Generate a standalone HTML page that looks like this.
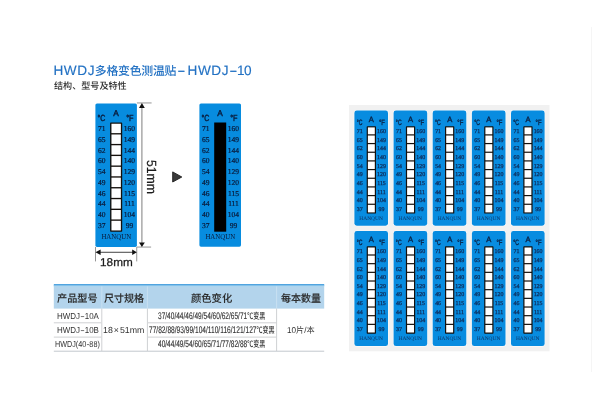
<!DOCTYPE html>
<html lang="zh-CN">
<head>
<meta charset="utf-8">
<title>HWDJ多格变色测温贴-HWDJ-10</title>
<style>
html,body{margin:0;padding:0;background:#fff;}
body{width:600px;height:400px;overflow:hidden;position:relative;font-family:"Liberation Sans","Noto Sans CJK SC",sans-serif;color:#333;}
svg{position:absolute;left:0;top:0;display:block;}
svg text{text-rendering:geometricPrecision;}
.sa{font-family:"Liberation Sans","Noto Sans CJK SC",sans-serif;}
.se{font-family:"Liberation Serif","Noto Serif CJK SC",serif;}
.t{position:absolute;white-space:nowrap;transform-origin:0 50%;margin:0;padding:0;text-rendering:geometricPrecision;}
.t span{line-height:0;}
.t span.d,.t span.e{display:inline-block;line-height:normal;}
.title{color:#2271c3;-webkit-text-stroke:0.15px #2271c3;letter-spacing:0.6px;}
.title .c{font-size:11.9px;font-weight:500;-webkit-text-stroke:0;letter-spacing:-0.25px;margin-left:-0.3px;}
.title .d{transform:scaleX(1.8);margin:0 2.3px 0 2.5px;letter-spacing:0;}
.sub{font-weight:500;color:#2e2e2e;}
.th{font-weight:500;color:#2a2a2a;-webkit-text-stroke:0.1px #2a2a2a;}
.td{color:#333;}
.cc{-webkit-text-stroke:0.12px #303030;color:#303030;}
.cc .k{font-size:8.8px;-webkit-text-stroke:0;font-weight:500;}
.td .d{transform:scaleX(1.7);margin:0 1.0px 0 1.2px;}
.td .e{transform:scaleX(1.3);margin:0 0.4px;}
.td .x{margin:0 1px;}
.title .n{letter-spacing:-0.6px;margin-left:-1px;}
.title .w{margin-left:1.9px;margin-right:-0.4px;}
.page{position:absolute;left:0;top:0;width:600px;height:400px;will-change:transform;}
</style>
</head>
<body>
<div class="page">

<svg width="600" height="400" viewBox="0 0 600 400">
<rect x="349" y="105" width="200.5" height="246.3" fill="#f1f1f1"/>
<rect x="591" y="27" width="0.8" height="345" fill="#f3f3f3"/>
<g transform="translate(95.4,103.4)">
<rect x="0" y="0" width="41.5" height="143.5" rx="1.6" ry="1.6" fill="#078cdf"/>
<g fill="#0a1a3a" stroke="#0a1a3a" stroke-width="0.4" text-anchor="middle" class="sa">
<text x="20.70" y="13.10" font-size="8.30">A</text>
<text x="6.10" y="18.10" font-size="8.90" textLength="7.90" lengthAdjust="spacingAndGlyphs">°C</text>
<text x="34.50" y="18.10" font-size="8.90" textLength="7.40" lengthAdjust="spacingAndGlyphs">°F</text>
</g>
<g fill="#0a1a3a" stroke="#0a1a3a" stroke-width="0.2" text-anchor="middle" font-size="7.50" class="se">
<text x="6.30" y="27.70">71</text>
<text x="34.10" y="27.70">160</text>
<text x="6.30" y="38.47">65</text>
<text x="34.10" y="38.47">149</text>
<text x="6.30" y="49.24">62</text>
<text x="34.10" y="49.24">144</text>
<text x="6.30" y="60.01">60</text>
<text x="34.10" y="60.01">140</text>
<text x="6.30" y="70.78">54</text>
<text x="34.10" y="70.78">129</text>
<text x="6.30" y="81.55">49</text>
<text x="34.10" y="81.55">120</text>
<text x="6.30" y="92.32">46</text>
<text x="34.10" y="92.32">115</text>
<text x="6.30" y="103.09">44</text>
<text x="34.10" y="103.09">111</text>
<text x="6.30" y="113.86">40</text>
<text x="34.10" y="113.86">104</text>
<text x="6.30" y="124.63">37</text>
<text x="34.10" y="124.63">99</text>
<text x="20.90" y="136.10" font-size="7.50" textLength="29.80" lengthAdjust="spacingAndGlyphs" stroke-width="0">HANQUN</text>
</g>
<rect x="14.70" y="19.00" width="12.10" height="109.40" rx="0.7" fill="#15100c"/>
<rect x="16.05" y="20.35" width="9.40" height="9.37" fill="#fff"/>
<rect x="16.05" y="31.07" width="9.40" height="9.44" fill="#fff"/>
<rect x="16.05" y="41.86" width="9.40" height="9.44" fill="#fff"/>
<rect x="16.05" y="52.65" width="9.40" height="9.44" fill="#fff"/>
<rect x="16.05" y="63.44" width="9.40" height="9.44" fill="#fff"/>
<rect x="16.05" y="74.23" width="9.40" height="9.44" fill="#fff"/>
<rect x="16.05" y="85.02" width="9.40" height="9.44" fill="#fff"/>
<rect x="16.05" y="95.81" width="9.40" height="9.44" fill="#fff"/>
<rect x="16.05" y="106.61" width="9.40" height="9.44" fill="#fff"/>
<rect x="16.05" y="117.39" width="9.40" height="9.66" fill="#fff"/>
</g>
<g transform="translate(199.4,103.4)">
<rect x="0" y="0" width="41.6" height="143.3" rx="1.6" ry="1.6" fill="#078cdf"/>
<g fill="#0a1a3a" stroke="#0a1a3a" stroke-width="0.4" text-anchor="middle" class="sa">
<text x="20.70" y="13.10" font-size="8.30">A</text>
<text x="6.10" y="18.10" font-size="8.90" textLength="7.90" lengthAdjust="spacingAndGlyphs">°C</text>
<text x="34.50" y="18.10" font-size="8.90" textLength="7.40" lengthAdjust="spacingAndGlyphs">°F</text>
</g>
<g fill="#0a1a3a" stroke="#0a1a3a" stroke-width="0.2" text-anchor="middle" font-size="7.50" class="se">
<text x="6.30" y="27.70">71</text>
<text x="34.10" y="27.70">160</text>
<text x="6.30" y="38.47">65</text>
<text x="34.10" y="38.47">149</text>
<text x="6.30" y="49.24">62</text>
<text x="34.10" y="49.24">144</text>
<text x="6.30" y="60.01">60</text>
<text x="34.10" y="60.01">140</text>
<text x="6.30" y="70.78">54</text>
<text x="34.10" y="70.78">129</text>
<text x="6.30" y="81.55">49</text>
<text x="34.10" y="81.55">120</text>
<text x="6.30" y="92.32">46</text>
<text x="34.10" y="92.32">115</text>
<text x="6.30" y="103.09">44</text>
<text x="34.10" y="103.09">111</text>
<text x="6.30" y="113.86">40</text>
<text x="34.10" y="113.86">104</text>
<text x="6.30" y="124.63">37</text>
<text x="34.10" y="124.63">99</text>
<text x="20.90" y="136.10" font-size="7.50" textLength="29.80" lengthAdjust="spacingAndGlyphs" stroke-width="0">HANQUN</text>
</g>
<rect x="14.80" y="19.10" width="12.00" height="109.20" fill="#000"/>
</g>
<g fill="#8a8a8a">
<rect x="136.9" y="102.5" width="14.7" height="0.9"/>
<rect x="136.9" y="246.6" width="14.2" height="0.9"/>
<rect x="141.35" y="107" width="1.1" height="136"/>
<rect x="95.1" y="247" width="0.9" height="14.4"/>
<rect x="136.3" y="247" width="0.9" height="14.4"/>
</g>
<rect x="100" y="251.75" width="33" height="1.1" fill="#555"/>
<g fill="#111">
<polygon points="141.9,103 139,108 144.8,108"/>
<polygon points="141.9,247 139,242.6 144.8,242.6"/>
<polygon points="95.5,252.3 100.6,249.6 100.6,255"/>
<polygon points="136.8,252.3 132.2,249.6 132.2,255"/>
<polygon points="172.7,171.9 181.8,177 172.7,182" fill="#3a3a3a" stroke="#1c1c1c" stroke-width="0.9" stroke-linejoin="miter"/>
</g>
<text x="116.4" y="266" font-size="11.3" fill="#1c1c1c" stroke="#1c1c1c" stroke-width="0.25" text-anchor="middle" textLength="32.6" lengthAdjust="spacingAndGlyphs" class="sa">18mm</text>
<text transform="translate(146.9,177) rotate(90)" font-size="13.3" fill="#1c1c1c" stroke="#1c1c1c" stroke-width="0.2" text-anchor="middle" textLength="34.0" lengthAdjust="spacingAndGlyphs" class="sa">51mm</text>

<g>
<rect x="53.8" y="285" width="270.4" height="23.6" fill="#b3d4ec"/>
<rect x="53.8" y="284.1" width="270.4" height="1.5" fill="#3f9bdc"/><rect x="53.8" y="285.6" width="270.4" height="0.8" fill="#a6d6f3"/>
<g fill="#c8e0f2">
<rect x="101.3" y="286.4" width="1" height="22.2"/>
<rect x="146.9" y="286.4" width="1" height="22.2"/>
<rect x="276.1" y="286.4" width="1" height="22.2"/>
</g>
<g fill="#cfd1d3">
<rect x="53.8" y="322.3" width="47.5" height="1"/>
<rect x="53.8" y="336.6" width="47.5" height="1"/>
<rect x="148" y="322.3" width="128.5" height="1"/>
<rect x="148" y="336.6" width="128.5" height="1"/>
<rect x="101.3" y="308.6" width="1" height="42.4"/>
<rect x="146.9" y="308.6" width="1" height="42.4"/>
<rect x="276.1" y="308.6" width="1" height="42.4"/>
</g>
<rect x="53.8" y="350.7" width="270.4" height="1" fill="#c2c8ce"/>
</g>

<g transform="translate(354.4,110.6)">
<rect x="-0.6" y="-0.6" width="34.800000000000004" height="116.3" rx="3.0" ry="3.0" fill="#fafafa"/>
<rect x="0" y="0" width="33.6" height="115.1" rx="2.4" ry="2.4" fill="#088ce0"/>
<g transform="translate(0,-0.3)">
<g fill="#0a2145" stroke="#0a2145" stroke-width="0.35" text-anchor="middle" class="sa">
<text x="17.00" y="11.50" font-size="7.60">A</text>
<text x="5.10" y="14.90" font-size="7.80" textLength="5.70" lengthAdjust="spacingAndGlyphs">°C</text>
<text x="27.60" y="14.90" font-size="7.80" textLength="6.00" lengthAdjust="spacingAndGlyphs">°F</text>
</g>
<g fill="#0e3566" stroke="#0e3566" stroke-width="0.3" text-anchor="middle" font-size="5.90" class="se">
<text x="5.40" y="22.80">71</text>
<text x="27.10" y="22.80">160</text>
<text x="5.40" y="31.46">65</text>
<text x="27.10" y="31.46">149</text>
<text x="5.40" y="40.12">62</text>
<text x="27.10" y="40.12">144</text>
<text x="5.40" y="48.78">60</text>
<text x="27.10" y="48.78">140</text>
<text x="5.40" y="57.44">54</text>
<text x="27.10" y="57.44">129</text>
<text x="5.40" y="66.10">49</text>
<text x="27.10" y="66.10">120</text>
<text x="5.40" y="74.76">46</text>
<text x="27.10" y="74.76">115</text>
<text x="5.40" y="83.42">44</text>
<text x="27.10" y="83.42">111</text>
<text x="5.40" y="92.08">40</text>
<text x="27.10" y="92.08">104</text>
<text x="5.40" y="100.74">37</text>
<text x="27.10" y="100.74">99</text>
<text x="16.70" y="109.60" font-size="5.30" textLength="23.50" lengthAdjust="spacingAndGlyphs" stroke-width="0">HANQUN</text>
</g>
<rect x="12.30" y="15.90" width="9.30" height="87.40" rx="0.7" fill="#15100c"/>
<rect x="13.50" y="17.10" width="6.90" height="6.90" fill="#fff"/>
<rect x="13.50" y="25.20" width="6.90" height="7.47" fill="#fff"/>
<rect x="13.50" y="33.87" width="6.90" height="7.47" fill="#fff"/>
<rect x="13.50" y="42.54" width="6.90" height="7.47" fill="#fff"/>
<rect x="13.50" y="51.21" width="6.90" height="7.47" fill="#fff"/>
<rect x="13.50" y="59.88" width="6.90" height="7.47" fill="#fff"/>
<rect x="13.50" y="68.55" width="6.90" height="7.47" fill="#fff"/>
<rect x="13.50" y="77.22" width="6.90" height="7.47" fill="#fff"/>
<rect x="13.50" y="85.89" width="6.90" height="7.47" fill="#fff"/>
<rect x="13.50" y="94.56" width="6.90" height="7.54" fill="#fff"/>
</g>
</g>
<g transform="translate(393.6,110.6)">
<rect x="-0.6" y="-0.6" width="34.800000000000004" height="116.3" rx="3.0" ry="3.0" fill="#fafafa"/>
<rect x="0" y="0" width="33.6" height="115.1" rx="2.4" ry="2.4" fill="#088ce0"/>
<g transform="translate(0,-0.3)">
<g fill="#0a2145" stroke="#0a2145" stroke-width="0.35" text-anchor="middle" class="sa">
<text x="17.00" y="11.50" font-size="7.60">A</text>
<text x="5.10" y="14.90" font-size="7.80" textLength="5.70" lengthAdjust="spacingAndGlyphs">°C</text>
<text x="27.60" y="14.90" font-size="7.80" textLength="6.00" lengthAdjust="spacingAndGlyphs">°F</text>
</g>
<g fill="#0e3566" stroke="#0e3566" stroke-width="0.3" text-anchor="middle" font-size="5.90" class="se">
<text x="5.40" y="22.80">71</text>
<text x="27.10" y="22.80">160</text>
<text x="5.40" y="31.46">65</text>
<text x="27.10" y="31.46">149</text>
<text x="5.40" y="40.12">62</text>
<text x="27.10" y="40.12">144</text>
<text x="5.40" y="48.78">60</text>
<text x="27.10" y="48.78">140</text>
<text x="5.40" y="57.44">54</text>
<text x="27.10" y="57.44">129</text>
<text x="5.40" y="66.10">49</text>
<text x="27.10" y="66.10">120</text>
<text x="5.40" y="74.76">46</text>
<text x="27.10" y="74.76">115</text>
<text x="5.40" y="83.42">44</text>
<text x="27.10" y="83.42">111</text>
<text x="5.40" y="92.08">40</text>
<text x="27.10" y="92.08">104</text>
<text x="5.40" y="100.74">37</text>
<text x="27.10" y="100.74">99</text>
<text x="16.70" y="109.60" font-size="5.30" textLength="23.50" lengthAdjust="spacingAndGlyphs" stroke-width="0">HANQUN</text>
</g>
<rect x="12.30" y="15.90" width="9.30" height="87.40" rx="0.7" fill="#15100c"/>
<rect x="13.50" y="17.10" width="6.90" height="6.90" fill="#fff"/>
<rect x="13.50" y="25.20" width="6.90" height="7.47" fill="#fff"/>
<rect x="13.50" y="33.87" width="6.90" height="7.47" fill="#fff"/>
<rect x="13.50" y="42.54" width="6.90" height="7.47" fill="#fff"/>
<rect x="13.50" y="51.21" width="6.90" height="7.47" fill="#fff"/>
<rect x="13.50" y="59.88" width="6.90" height="7.47" fill="#fff"/>
<rect x="13.50" y="68.55" width="6.90" height="7.47" fill="#fff"/>
<rect x="13.50" y="77.22" width="6.90" height="7.47" fill="#fff"/>
<rect x="13.50" y="85.89" width="6.90" height="7.47" fill="#fff"/>
<rect x="13.50" y="94.56" width="6.90" height="7.54" fill="#fff"/>
</g>
</g>
<g transform="translate(432.7,110.6)">
<rect x="-0.6" y="-0.6" width="34.800000000000004" height="116.3" rx="3.0" ry="3.0" fill="#fafafa"/>
<rect x="0" y="0" width="33.6" height="115.1" rx="2.4" ry="2.4" fill="#088ce0"/>
<g transform="translate(0,-0.3)">
<g fill="#0a2145" stroke="#0a2145" stroke-width="0.35" text-anchor="middle" class="sa">
<text x="17.00" y="11.50" font-size="7.60">A</text>
<text x="5.10" y="14.90" font-size="7.80" textLength="5.70" lengthAdjust="spacingAndGlyphs">°C</text>
<text x="27.60" y="14.90" font-size="7.80" textLength="6.00" lengthAdjust="spacingAndGlyphs">°F</text>
</g>
<g fill="#0e3566" stroke="#0e3566" stroke-width="0.3" text-anchor="middle" font-size="5.90" class="se">
<text x="5.40" y="22.80">71</text>
<text x="27.10" y="22.80">160</text>
<text x="5.40" y="31.46">65</text>
<text x="27.10" y="31.46">149</text>
<text x="5.40" y="40.12">62</text>
<text x="27.10" y="40.12">144</text>
<text x="5.40" y="48.78">60</text>
<text x="27.10" y="48.78">140</text>
<text x="5.40" y="57.44">54</text>
<text x="27.10" y="57.44">129</text>
<text x="5.40" y="66.10">49</text>
<text x="27.10" y="66.10">120</text>
<text x="5.40" y="74.76">46</text>
<text x="27.10" y="74.76">115</text>
<text x="5.40" y="83.42">44</text>
<text x="27.10" y="83.42">111</text>
<text x="5.40" y="92.08">40</text>
<text x="27.10" y="92.08">104</text>
<text x="5.40" y="100.74">37</text>
<text x="27.10" y="100.74">99</text>
<text x="16.70" y="109.60" font-size="5.30" textLength="23.50" lengthAdjust="spacingAndGlyphs" stroke-width="0">HANQUN</text>
</g>
<rect x="12.30" y="15.90" width="9.30" height="87.40" rx="0.7" fill="#15100c"/>
<rect x="13.50" y="17.10" width="6.90" height="6.90" fill="#fff"/>
<rect x="13.50" y="25.20" width="6.90" height="7.47" fill="#fff"/>
<rect x="13.50" y="33.87" width="6.90" height="7.47" fill="#fff"/>
<rect x="13.50" y="42.54" width="6.90" height="7.47" fill="#fff"/>
<rect x="13.50" y="51.21" width="6.90" height="7.47" fill="#fff"/>
<rect x="13.50" y="59.88" width="6.90" height="7.47" fill="#fff"/>
<rect x="13.50" y="68.55" width="6.90" height="7.47" fill="#fff"/>
<rect x="13.50" y="77.22" width="6.90" height="7.47" fill="#fff"/>
<rect x="13.50" y="85.89" width="6.90" height="7.47" fill="#fff"/>
<rect x="13.50" y="94.56" width="6.90" height="7.54" fill="#fff"/>
</g>
</g>
<g transform="translate(471.9,110.6)">
<rect x="-0.6" y="-0.6" width="34.800000000000004" height="116.3" rx="3.0" ry="3.0" fill="#fafafa"/>
<rect x="0" y="0" width="33.6" height="115.1" rx="2.4" ry="2.4" fill="#088ce0"/>
<g transform="translate(0,-0.3)">
<g fill="#0a2145" stroke="#0a2145" stroke-width="0.35" text-anchor="middle" class="sa">
<text x="17.00" y="11.50" font-size="7.60">A</text>
<text x="5.10" y="14.90" font-size="7.80" textLength="5.70" lengthAdjust="spacingAndGlyphs">°C</text>
<text x="27.60" y="14.90" font-size="7.80" textLength="6.00" lengthAdjust="spacingAndGlyphs">°F</text>
</g>
<g fill="#0e3566" stroke="#0e3566" stroke-width="0.3" text-anchor="middle" font-size="5.90" class="se">
<text x="5.40" y="22.80">71</text>
<text x="27.10" y="22.80">160</text>
<text x="5.40" y="31.46">65</text>
<text x="27.10" y="31.46">149</text>
<text x="5.40" y="40.12">62</text>
<text x="27.10" y="40.12">144</text>
<text x="5.40" y="48.78">60</text>
<text x="27.10" y="48.78">140</text>
<text x="5.40" y="57.44">54</text>
<text x="27.10" y="57.44">129</text>
<text x="5.40" y="66.10">49</text>
<text x="27.10" y="66.10">120</text>
<text x="5.40" y="74.76">46</text>
<text x="27.10" y="74.76">115</text>
<text x="5.40" y="83.42">44</text>
<text x="27.10" y="83.42">111</text>
<text x="5.40" y="92.08">40</text>
<text x="27.10" y="92.08">104</text>
<text x="5.40" y="100.74">37</text>
<text x="27.10" y="100.74">99</text>
<text x="16.70" y="109.60" font-size="5.30" textLength="23.50" lengthAdjust="spacingAndGlyphs" stroke-width="0">HANQUN</text>
</g>
<rect x="12.30" y="15.90" width="9.30" height="87.40" rx="0.7" fill="#15100c"/>
<rect x="13.50" y="17.10" width="6.90" height="6.90" fill="#fff"/>
<rect x="13.50" y="25.20" width="6.90" height="7.47" fill="#fff"/>
<rect x="13.50" y="33.87" width="6.90" height="7.47" fill="#fff"/>
<rect x="13.50" y="42.54" width="6.90" height="7.47" fill="#fff"/>
<rect x="13.50" y="51.21" width="6.90" height="7.47" fill="#fff"/>
<rect x="13.50" y="59.88" width="6.90" height="7.47" fill="#fff"/>
<rect x="13.50" y="68.55" width="6.90" height="7.47" fill="#fff"/>
<rect x="13.50" y="77.22" width="6.90" height="7.47" fill="#fff"/>
<rect x="13.50" y="85.89" width="6.90" height="7.47" fill="#fff"/>
<rect x="13.50" y="94.56" width="6.90" height="7.54" fill="#fff"/>
</g>
</g>
<g transform="translate(511.0,110.6)">
<rect x="-0.6" y="-0.6" width="34.800000000000004" height="116.3" rx="3.0" ry="3.0" fill="#fafafa"/>
<rect x="0" y="0" width="33.6" height="115.1" rx="2.4" ry="2.4" fill="#088ce0"/>
<g transform="translate(0,-0.3)">
<g fill="#0a2145" stroke="#0a2145" stroke-width="0.35" text-anchor="middle" class="sa">
<text x="17.00" y="11.50" font-size="7.60">A</text>
<text x="5.10" y="14.90" font-size="7.80" textLength="5.70" lengthAdjust="spacingAndGlyphs">°C</text>
<text x="27.60" y="14.90" font-size="7.80" textLength="6.00" lengthAdjust="spacingAndGlyphs">°F</text>
</g>
<g fill="#0e3566" stroke="#0e3566" stroke-width="0.3" text-anchor="middle" font-size="5.90" class="se">
<text x="5.40" y="22.80">71</text>
<text x="27.10" y="22.80">160</text>
<text x="5.40" y="31.46">65</text>
<text x="27.10" y="31.46">149</text>
<text x="5.40" y="40.12">62</text>
<text x="27.10" y="40.12">144</text>
<text x="5.40" y="48.78">60</text>
<text x="27.10" y="48.78">140</text>
<text x="5.40" y="57.44">54</text>
<text x="27.10" y="57.44">129</text>
<text x="5.40" y="66.10">49</text>
<text x="27.10" y="66.10">120</text>
<text x="5.40" y="74.76">46</text>
<text x="27.10" y="74.76">115</text>
<text x="5.40" y="83.42">44</text>
<text x="27.10" y="83.42">111</text>
<text x="5.40" y="92.08">40</text>
<text x="27.10" y="92.08">104</text>
<text x="5.40" y="100.74">37</text>
<text x="27.10" y="100.74">99</text>
<text x="16.70" y="109.60" font-size="5.30" textLength="23.50" lengthAdjust="spacingAndGlyphs" stroke-width="0">HANQUN</text>
</g>
<rect x="12.30" y="15.90" width="9.30" height="87.40" rx="0.7" fill="#15100c"/>
<rect x="13.50" y="17.10" width="6.90" height="6.90" fill="#fff"/>
<rect x="13.50" y="25.20" width="6.90" height="7.47" fill="#fff"/>
<rect x="13.50" y="33.87" width="6.90" height="7.47" fill="#fff"/>
<rect x="13.50" y="42.54" width="6.90" height="7.47" fill="#fff"/>
<rect x="13.50" y="51.21" width="6.90" height="7.47" fill="#fff"/>
<rect x="13.50" y="59.88" width="6.90" height="7.47" fill="#fff"/>
<rect x="13.50" y="68.55" width="6.90" height="7.47" fill="#fff"/>
<rect x="13.50" y="77.22" width="6.90" height="7.47" fill="#fff"/>
<rect x="13.50" y="85.89" width="6.90" height="7.47" fill="#fff"/>
<rect x="13.50" y="94.56" width="6.90" height="7.54" fill="#fff"/>
</g>
</g>
<g transform="translate(354.4,231.0)">
<rect x="-0.6" y="-0.6" width="34.800000000000004" height="116.3" rx="3.0" ry="3.0" fill="#fafafa"/>
<rect x="0" y="0" width="33.6" height="115.1" rx="2.4" ry="2.4" fill="#088ce0"/>
<g transform="translate(0,-0.6)">
<g fill="#0a2145" stroke="#0a2145" stroke-width="0.35" text-anchor="middle" class="sa">
<text x="17.00" y="11.50" font-size="7.60">A</text>
<text x="5.10" y="14.90" font-size="7.80" textLength="5.70" lengthAdjust="spacingAndGlyphs">°C</text>
<text x="27.60" y="14.90" font-size="7.80" textLength="6.00" lengthAdjust="spacingAndGlyphs">°F</text>
</g>
<g fill="#0e3566" stroke="#0e3566" stroke-width="0.3" text-anchor="middle" font-size="5.90" class="se">
<text x="5.40" y="22.80">71</text>
<text x="27.10" y="22.80">160</text>
<text x="5.40" y="31.46">65</text>
<text x="27.10" y="31.46">149</text>
<text x="5.40" y="40.12">62</text>
<text x="27.10" y="40.12">144</text>
<text x="5.40" y="48.78">60</text>
<text x="27.10" y="48.78">140</text>
<text x="5.40" y="57.44">54</text>
<text x="27.10" y="57.44">129</text>
<text x="5.40" y="66.10">49</text>
<text x="27.10" y="66.10">120</text>
<text x="5.40" y="74.76">46</text>
<text x="27.10" y="74.76">115</text>
<text x="5.40" y="83.42">44</text>
<text x="27.10" y="83.42">111</text>
<text x="5.40" y="92.08">40</text>
<text x="27.10" y="92.08">104</text>
<text x="5.40" y="100.74">37</text>
<text x="27.10" y="100.74">99</text>
<text x="16.70" y="109.60" font-size="5.30" textLength="23.50" lengthAdjust="spacingAndGlyphs" stroke-width="0">HANQUN</text>
</g>
<rect x="12.30" y="15.90" width="9.30" height="87.40" rx="0.7" fill="#15100c"/>
<rect x="13.50" y="17.10" width="6.90" height="6.90" fill="#fff"/>
<rect x="13.50" y="25.20" width="6.90" height="7.47" fill="#fff"/>
<rect x="13.50" y="33.87" width="6.90" height="7.47" fill="#fff"/>
<rect x="13.50" y="42.54" width="6.90" height="7.47" fill="#fff"/>
<rect x="13.50" y="51.21" width="6.90" height="7.47" fill="#fff"/>
<rect x="13.50" y="59.88" width="6.90" height="7.47" fill="#fff"/>
<rect x="13.50" y="68.55" width="6.90" height="7.47" fill="#fff"/>
<rect x="13.50" y="77.22" width="6.90" height="7.47" fill="#fff"/>
<rect x="13.50" y="85.89" width="6.90" height="7.47" fill="#fff"/>
<rect x="13.50" y="94.56" width="6.90" height="7.54" fill="#fff"/>
</g>
</g>
<g transform="translate(393.6,231.0)">
<rect x="-0.6" y="-0.6" width="34.800000000000004" height="116.3" rx="3.0" ry="3.0" fill="#fafafa"/>
<rect x="0" y="0" width="33.6" height="115.1" rx="2.4" ry="2.4" fill="#088ce0"/>
<g transform="translate(0,-0.6)">
<g fill="#0a2145" stroke="#0a2145" stroke-width="0.35" text-anchor="middle" class="sa">
<text x="17.00" y="11.50" font-size="7.60">A</text>
<text x="5.10" y="14.90" font-size="7.80" textLength="5.70" lengthAdjust="spacingAndGlyphs">°C</text>
<text x="27.60" y="14.90" font-size="7.80" textLength="6.00" lengthAdjust="spacingAndGlyphs">°F</text>
</g>
<g fill="#0e3566" stroke="#0e3566" stroke-width="0.3" text-anchor="middle" font-size="5.90" class="se">
<text x="5.40" y="22.80">71</text>
<text x="27.10" y="22.80">160</text>
<text x="5.40" y="31.46">65</text>
<text x="27.10" y="31.46">149</text>
<text x="5.40" y="40.12">62</text>
<text x="27.10" y="40.12">144</text>
<text x="5.40" y="48.78">60</text>
<text x="27.10" y="48.78">140</text>
<text x="5.40" y="57.44">54</text>
<text x="27.10" y="57.44">129</text>
<text x="5.40" y="66.10">49</text>
<text x="27.10" y="66.10">120</text>
<text x="5.40" y="74.76">46</text>
<text x="27.10" y="74.76">115</text>
<text x="5.40" y="83.42">44</text>
<text x="27.10" y="83.42">111</text>
<text x="5.40" y="92.08">40</text>
<text x="27.10" y="92.08">104</text>
<text x="5.40" y="100.74">37</text>
<text x="27.10" y="100.74">99</text>
<text x="16.70" y="109.60" font-size="5.30" textLength="23.50" lengthAdjust="spacingAndGlyphs" stroke-width="0">HANQUN</text>
</g>
<rect x="12.30" y="15.90" width="9.30" height="87.40" rx="0.7" fill="#15100c"/>
<rect x="13.50" y="17.10" width="6.90" height="6.90" fill="#fff"/>
<rect x="13.50" y="25.20" width="6.90" height="7.47" fill="#fff"/>
<rect x="13.50" y="33.87" width="6.90" height="7.47" fill="#fff"/>
<rect x="13.50" y="42.54" width="6.90" height="7.47" fill="#fff"/>
<rect x="13.50" y="51.21" width="6.90" height="7.47" fill="#fff"/>
<rect x="13.50" y="59.88" width="6.90" height="7.47" fill="#fff"/>
<rect x="13.50" y="68.55" width="6.90" height="7.47" fill="#fff"/>
<rect x="13.50" y="77.22" width="6.90" height="7.47" fill="#fff"/>
<rect x="13.50" y="85.89" width="6.90" height="7.47" fill="#fff"/>
<rect x="13.50" y="94.56" width="6.90" height="7.54" fill="#fff"/>
</g>
</g>
<g transform="translate(432.7,231.0)">
<rect x="-0.6" y="-0.6" width="34.800000000000004" height="116.3" rx="3.0" ry="3.0" fill="#fafafa"/>
<rect x="0" y="0" width="33.6" height="115.1" rx="2.4" ry="2.4" fill="#088ce0"/>
<g transform="translate(0,-0.6)">
<g fill="#0a2145" stroke="#0a2145" stroke-width="0.35" text-anchor="middle" class="sa">
<text x="17.00" y="11.50" font-size="7.60">A</text>
<text x="5.10" y="14.90" font-size="7.80" textLength="5.70" lengthAdjust="spacingAndGlyphs">°C</text>
<text x="27.60" y="14.90" font-size="7.80" textLength="6.00" lengthAdjust="spacingAndGlyphs">°F</text>
</g>
<g fill="#0e3566" stroke="#0e3566" stroke-width="0.3" text-anchor="middle" font-size="5.90" class="se">
<text x="5.40" y="22.80">71</text>
<text x="27.10" y="22.80">160</text>
<text x="5.40" y="31.46">65</text>
<text x="27.10" y="31.46">149</text>
<text x="5.40" y="40.12">62</text>
<text x="27.10" y="40.12">144</text>
<text x="5.40" y="48.78">60</text>
<text x="27.10" y="48.78">140</text>
<text x="5.40" y="57.44">54</text>
<text x="27.10" y="57.44">129</text>
<text x="5.40" y="66.10">49</text>
<text x="27.10" y="66.10">120</text>
<text x="5.40" y="74.76">46</text>
<text x="27.10" y="74.76">115</text>
<text x="5.40" y="83.42">44</text>
<text x="27.10" y="83.42">111</text>
<text x="5.40" y="92.08">40</text>
<text x="27.10" y="92.08">104</text>
<text x="5.40" y="100.74">37</text>
<text x="27.10" y="100.74">99</text>
<text x="16.70" y="109.60" font-size="5.30" textLength="23.50" lengthAdjust="spacingAndGlyphs" stroke-width="0">HANQUN</text>
</g>
<rect x="12.30" y="15.90" width="9.30" height="87.40" rx="0.7" fill="#15100c"/>
<rect x="13.50" y="17.10" width="6.90" height="6.90" fill="#fff"/>
<rect x="13.50" y="25.20" width="6.90" height="7.47" fill="#fff"/>
<rect x="13.50" y="33.87" width="6.90" height="7.47" fill="#fff"/>
<rect x="13.50" y="42.54" width="6.90" height="7.47" fill="#fff"/>
<rect x="13.50" y="51.21" width="6.90" height="7.47" fill="#fff"/>
<rect x="13.50" y="59.88" width="6.90" height="7.47" fill="#fff"/>
<rect x="13.50" y="68.55" width="6.90" height="7.47" fill="#fff"/>
<rect x="13.50" y="77.22" width="6.90" height="7.47" fill="#fff"/>
<rect x="13.50" y="85.89" width="6.90" height="7.47" fill="#fff"/>
<rect x="13.50" y="94.56" width="6.90" height="7.54" fill="#fff"/>
</g>
</g>
<g transform="translate(471.9,231.0)">
<rect x="-0.6" y="-0.6" width="34.800000000000004" height="116.3" rx="3.0" ry="3.0" fill="#fafafa"/>
<rect x="0" y="0" width="33.6" height="115.1" rx="2.4" ry="2.4" fill="#088ce0"/>
<g transform="translate(0,-0.6)">
<g fill="#0a2145" stroke="#0a2145" stroke-width="0.35" text-anchor="middle" class="sa">
<text x="17.00" y="11.50" font-size="7.60">A</text>
<text x="5.10" y="14.90" font-size="7.80" textLength="5.70" lengthAdjust="spacingAndGlyphs">°C</text>
<text x="27.60" y="14.90" font-size="7.80" textLength="6.00" lengthAdjust="spacingAndGlyphs">°F</text>
</g>
<g fill="#0e3566" stroke="#0e3566" stroke-width="0.3" text-anchor="middle" font-size="5.90" class="se">
<text x="5.40" y="22.80">71</text>
<text x="27.10" y="22.80">160</text>
<text x="5.40" y="31.46">65</text>
<text x="27.10" y="31.46">149</text>
<text x="5.40" y="40.12">62</text>
<text x="27.10" y="40.12">144</text>
<text x="5.40" y="48.78">60</text>
<text x="27.10" y="48.78">140</text>
<text x="5.40" y="57.44">54</text>
<text x="27.10" y="57.44">129</text>
<text x="5.40" y="66.10">49</text>
<text x="27.10" y="66.10">120</text>
<text x="5.40" y="74.76">46</text>
<text x="27.10" y="74.76">115</text>
<text x="5.40" y="83.42">44</text>
<text x="27.10" y="83.42">111</text>
<text x="5.40" y="92.08">40</text>
<text x="27.10" y="92.08">104</text>
<text x="5.40" y="100.74">37</text>
<text x="27.10" y="100.74">99</text>
<text x="16.70" y="109.60" font-size="5.30" textLength="23.50" lengthAdjust="spacingAndGlyphs" stroke-width="0">HANQUN</text>
</g>
<rect x="12.30" y="15.90" width="9.30" height="87.40" rx="0.7" fill="#15100c"/>
<rect x="13.50" y="17.10" width="6.90" height="6.90" fill="#fff"/>
<rect x="13.50" y="25.20" width="6.90" height="7.47" fill="#fff"/>
<rect x="13.50" y="33.87" width="6.90" height="7.47" fill="#fff"/>
<rect x="13.50" y="42.54" width="6.90" height="7.47" fill="#fff"/>
<rect x="13.50" y="51.21" width="6.90" height="7.47" fill="#fff"/>
<rect x="13.50" y="59.88" width="6.90" height="7.47" fill="#fff"/>
<rect x="13.50" y="68.55" width="6.90" height="7.47" fill="#fff"/>
<rect x="13.50" y="77.22" width="6.90" height="7.47" fill="#fff"/>
<rect x="13.50" y="85.89" width="6.90" height="7.47" fill="#fff"/>
<rect x="13.50" y="94.56" width="6.90" height="7.54" fill="#fff"/>
</g>
</g>
<g transform="translate(511.0,231.0)">
<rect x="-0.6" y="-0.6" width="34.800000000000004" height="116.3" rx="3.0" ry="3.0" fill="#fafafa"/>
<rect x="0" y="0" width="33.6" height="115.1" rx="2.4" ry="2.4" fill="#088ce0"/>
<g transform="translate(0,-0.6)">
<g fill="#0a2145" stroke="#0a2145" stroke-width="0.35" text-anchor="middle" class="sa">
<text x="17.00" y="11.50" font-size="7.60">A</text>
<text x="5.10" y="14.90" font-size="7.80" textLength="5.70" lengthAdjust="spacingAndGlyphs">°C</text>
<text x="27.60" y="14.90" font-size="7.80" textLength="6.00" lengthAdjust="spacingAndGlyphs">°F</text>
</g>
<g fill="#0e3566" stroke="#0e3566" stroke-width="0.3" text-anchor="middle" font-size="5.90" class="se">
<text x="5.40" y="22.80">71</text>
<text x="27.10" y="22.80">160</text>
<text x="5.40" y="31.46">65</text>
<text x="27.10" y="31.46">149</text>
<text x="5.40" y="40.12">62</text>
<text x="27.10" y="40.12">144</text>
<text x="5.40" y="48.78">60</text>
<text x="27.10" y="48.78">140</text>
<text x="5.40" y="57.44">54</text>
<text x="27.10" y="57.44">129</text>
<text x="5.40" y="66.10">49</text>
<text x="27.10" y="66.10">120</text>
<text x="5.40" y="74.76">46</text>
<text x="27.10" y="74.76">115</text>
<text x="5.40" y="83.42">44</text>
<text x="27.10" y="83.42">111</text>
<text x="5.40" y="92.08">40</text>
<text x="27.10" y="92.08">104</text>
<text x="5.40" y="100.74">37</text>
<text x="27.10" y="100.74">99</text>
<text x="16.70" y="109.60" font-size="5.30" textLength="23.50" lengthAdjust="spacingAndGlyphs" stroke-width="0">HANQUN</text>
</g>
<rect x="12.30" y="15.90" width="9.30" height="87.40" rx="0.7" fill="#15100c"/>
<rect x="13.50" y="17.10" width="6.90" height="6.90" fill="#fff"/>
<rect x="13.50" y="25.20" width="6.90" height="7.47" fill="#fff"/>
<rect x="13.50" y="33.87" width="6.90" height="7.47" fill="#fff"/>
<rect x="13.50" y="42.54" width="6.90" height="7.47" fill="#fff"/>
<rect x="13.50" y="51.21" width="6.90" height="7.47" fill="#fff"/>
<rect x="13.50" y="59.88" width="6.90" height="7.47" fill="#fff"/>
<rect x="13.50" y="68.55" width="6.90" height="7.47" fill="#fff"/>
<rect x="13.50" y="77.22" width="6.90" height="7.47" fill="#fff"/>
<rect x="13.50" y="85.89" width="6.90" height="7.47" fill="#fff"/>
<rect x="13.50" y="94.56" width="6.90" height="7.54" fill="#fff"/>
</g>
</g>
</svg>
<div id="t1" class="t title" style="left:53.40px;top:57.29px;font-size:13.6px;line-height:27.2px;height:27.2px;transform:scaleX(1.0000);"><span>HWDJ</span><span class="c">多格变色测温贴</span><span class="d">-</span><span class="w">HWDJ</span><span class="d">-</span><span class="n">10</span></div>
<div id="t2" class="t sub" style="left:53.70px;top:76.61px;font-size:9.2px;line-height:18.4px;height:18.4px;transform:scaleX(0.9878);">结构、型号及特性</div>
<div id="h1" class="t th" style="left:57.30px;top:289.60px;font-size:10.4px;line-height:20.8px;height:20.8px;transform:scaleX(0.9768);">产品型号</div>
<div id="h2" class="t th" style="left:103.90px;top:289.60px;font-size:10.4px;line-height:20.8px;height:20.8px;transform:scaleX(0.9624);">尺寸规格</div>
<div id="h3" class="t th" style="left:190.50px;top:289.60px;font-size:10.4px;line-height:20.8px;height:20.8px;transform:scaleX(0.9913);">颜色变化</div>
<div id="h4" class="t th" style="left:280.50px;top:289.60px;font-size:10.4px;line-height:20.8px;height:20.8px;transform:scaleX(0.9624);">每本数量</div>
<div id="r1" class="t td" style="left:56.60px;top:307.82px;font-size:8.6px;line-height:17.2px;height:17.2px;transform:scaleX(0.9272);">HWDJ<span class="d">-</span>10A</div>
<div id="r2" class="t td" style="left:56.60px;top:322.02px;font-size:8.6px;line-height:17.2px;height:17.2px;transform:scaleX(0.9272);">HWDJ<span class="d">-</span>10B</div>
<div id="r3" class="t td" style="left:55.10px;top:336.32px;font-size:8.6px;line-height:17.2px;height:17.2px;transform:scaleX(0.8401);">HWDJ(40<span class="e">-</span>88)</div>
<div id="r4" class="t td" style="left:103.20px;top:321.85px;font-size:8.8px;line-height:17.6px;height:17.6px;transform:scaleX(1.0002);">18<span class="x">×</span>51mm</div>
<div id="r5" class="t td" style="left:286.80px;top:322.15px;font-size:8.5px;line-height:17.0px;height:17.0px;transform:scaleX(0.9609);">10片/本</div>
<div id="c1" class="t td cc" style="left:157.90px;top:306.87px;font-size:9.6px;line-height:19.2px;height:19.2px;transform:scaleX(0.6823);">37/40/44/46/49/54/60/62/65/71<span class="k">℃变黑</span></div>
<div id="c2" class="t td cc" style="left:148.60px;top:321.07px;font-size:9.6px;line-height:19.2px;height:19.2px;transform:scaleX(0.6892);">77/82/88/93/99/104/110/116/121/127<span class="k">℃变黑</span></div>
<div id="c3" class="t td cc" style="left:157.90px;top:335.27px;font-size:9.6px;line-height:19.2px;height:19.2px;transform:scaleX(0.6823);">40/44/49/54/60/65/71/77/82/88<span class="k">℃变黑</span></div>
</div>
</body>
</html>
